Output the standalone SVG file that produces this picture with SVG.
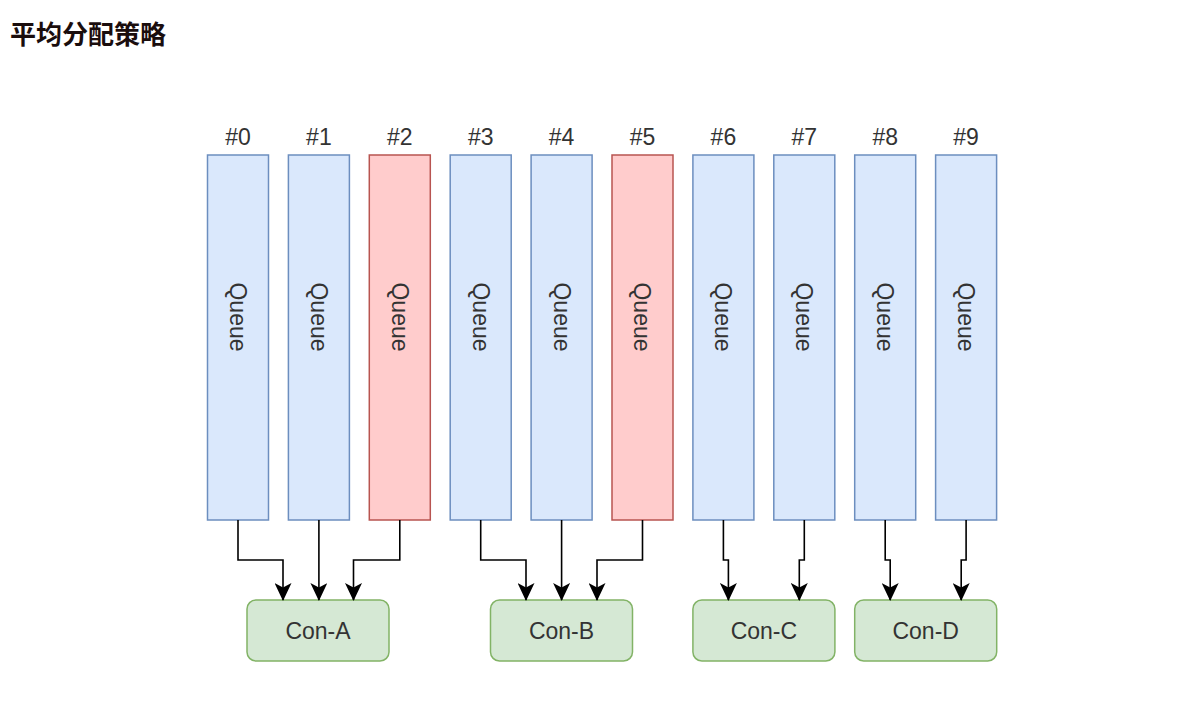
<svg xmlns="http://www.w3.org/2000/svg" width="1181" height="727" viewBox="0 0 1181 727">
<style>
.q{fill:#dae8fc;stroke:#6c8ebf;stroke-width:1.5}
.qr{fill:#ffcccc;stroke:#b85450;stroke-width:1.5}
.c{fill:#d5e8d4;stroke:#82b366;stroke-width:1.5}
.t{font-family:"Liberation Sans",Arial,sans-serif;font-size:23px;fill:#333;text-anchor:middle}
.e{fill:none;stroke:#000;stroke-width:1.6;marker-end:url(#ar)}
.title{font-family:"Noto Sans CJK SC",sans-serif;font-size:26px;font-weight:bold;fill:#1a0d0d}
</style>
<defs>
<marker id="ar" markerUnits="userSpaceOnUse" viewBox="0 0 18 17" markerWidth="18" markerHeight="17" refX="17" refY="8.5" orient="auto">
<path d="M0,0 L18,8.5 L0,17 L4.5,8.5 Z" fill="#000"/>
</marker>
</defs>
<rect width="1181" height="727" fill="#fff"/>
<text class="title" x="10" y="44">平均分配策略</text>

<g id="q0"><rect class="q" x="207.5" y="155" width="61" height="365"/><text class="t" x="238" y="145">#0</text><text class="t" transform="translate(238,317) rotate(90)" dy="0.35em">Queue</text></g>
<g id="q1"><rect class="q" x="288.4" y="155" width="61" height="365"/><text class="t" x="318.9" y="145">#1</text><text class="t" transform="translate(318.9,317) rotate(90)" dy="0.35em">Queue</text></g>
<g id="q2"><rect class="qr" x="369.3" y="155" width="61" height="365"/><text class="t" x="399.8" y="145">#2</text><text class="t" transform="translate(399.8,317) rotate(90)" dy="0.35em">Queue</text></g>
<g id="q3"><rect class="q" x="450.2" y="155" width="61" height="365"/><text class="t" x="480.7" y="145">#3</text><text class="t" transform="translate(480.7,317) rotate(90)" dy="0.35em">Queue</text></g>
<g id="q4"><rect class="q" x="531.1" y="155" width="61" height="365"/><text class="t" x="561.6" y="145">#4</text><text class="t" transform="translate(561.6,317) rotate(90)" dy="0.35em">Queue</text></g>
<g id="q5"><rect class="qr" x="612" y="155" width="61" height="365"/><text class="t" x="642.5" y="145">#5</text><text class="t" transform="translate(642.5,317) rotate(90)" dy="0.35em">Queue</text></g>
<g id="q6"><rect class="q" x="692.9" y="155" width="61" height="365"/><text class="t" x="723.4" y="145">#6</text><text class="t" transform="translate(723.4,317) rotate(90)" dy="0.35em">Queue</text></g>
<g id="q7"><rect class="q" x="773.8" y="155" width="61" height="365"/><text class="t" x="804.3" y="145">#7</text><text class="t" transform="translate(804.3,317) rotate(90)" dy="0.35em">Queue</text></g>
<g id="q8"><rect class="q" x="854.7" y="155" width="61" height="365"/><text class="t" x="885.2" y="145">#8</text><text class="t" transform="translate(885.2,317) rotate(90)" dy="0.35em">Queue</text></g>
<g id="q9"><rect class="q" x="935.6" y="155" width="61" height="365"/><text class="t" x="966.1" y="145">#9</text><text class="t" transform="translate(966.1,317) rotate(90)" dy="0.35em">Queue</text></g>

<g id="conA"><rect class="c" x="247" y="600" width="142" height="61" rx="9"/><text class="t" x="318" y="639">Con-A</text></g>
<g id="conB"><rect class="c" x="490.5" y="600" width="142" height="61" rx="9"/><text class="t" x="561.5" y="639">Con-B</text></g>
<g id="conC"><rect class="c" x="692.9" y="600" width="142" height="61" rx="9"/><text class="t" x="763.9" y="639">Con-C</text></g>
<g id="conD"><rect class="c" x="854.7" y="600" width="142" height="61" rx="9"/><text class="t" x="925.7" y="639">Con-D</text></g>

<g id="connectors">
<path class="e" d="M238,520 V560 H283 V600"/>
<path class="e" d="M318.9,520 V600"/>
<path class="e" d="M399.8,520 V560 H353.5 V600"/>
<path class="e" d="M480.7,520 V560 H526 V600"/>
<path class="e" d="M561.6,520 V600"/>
<path class="e" d="M642.5,520 V560 H597 V600"/>
<path class="e" d="M723.4,520 V560 H728.4 V600"/>
<path class="e" d="M804.3,520 V560 H799.3 V600"/>
<path class="e" d="M885.2,520 V560 H890.2 V600"/>
<path class="e" d="M966.1,520 V560 H961.2 V600"/>
</g>
</svg>
